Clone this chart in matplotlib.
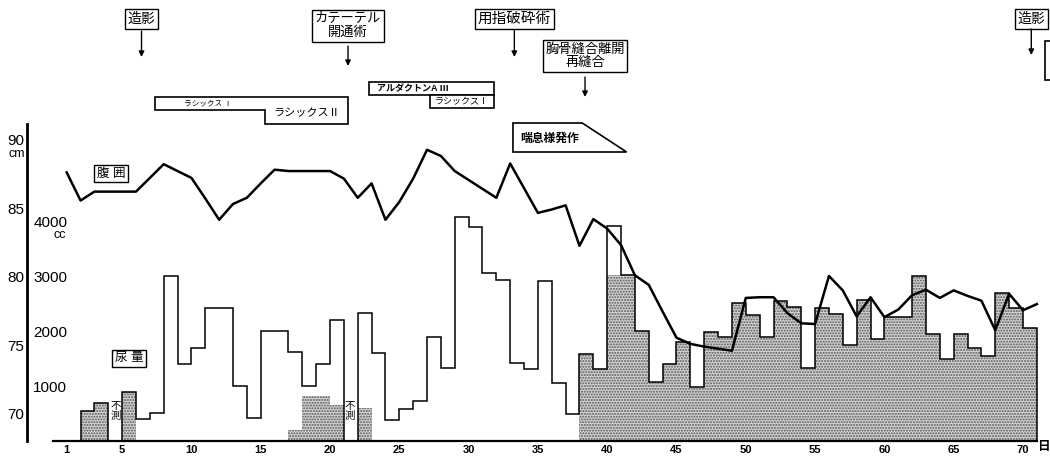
import numpy as np
import matplotlib
matplotlib.use('Agg')
import matplotlib.pyplot as plt
from matplotlib.transforms import blended_transform_factory
from matplotlib.patches import Polygon, Rectangle

plt.rcParams['font.family'] = ['Liberation Sans', 'Noto Sans CJK JP']
plt.rcParams['hatch.linewidth'] = 1.0

# 腹囲 (cm), day 1..71
days = np.arange(1, 72)
waist = [87.6, 85.55, 86.2, 86.2, 86.2, 86.2, 87.2, 88.2, 87.7, 87.2,
         85.7, 84.15, 85.3, 85.75, 86.8, 87.8, 87.7, 87.7, 87.7, 87.7,
         87.15, 85.75, 86.8, 84.15, 85.45, 87.15, 89.25, 88.8, 87.7, 87.05,
         86.4, 85.75, 88.25, 86.45, 84.65, 84.9, 85.2, 82.25, 84.2, 83.5,
         82.3, 80.1, 79.4, 77.45, 75.55, 75.1, 74.9, 74.75, 74.6, 78.45,
         78.5, 78.5, 77.35, 76.6, 76.55, 80.05, 79.0, 77.1, 78.5, 77.05,
         77.6, 78.65, 79.05, 78.45, 79.0, 78.6, 78.25, 76.1, 78.75, 77.55,
         78.0]

# 尿量 (cc), one step per day, day 2..70 (nan = 不測)
urine_days = np.arange(2, 71)
urine = [550, 700, np.nan, 885, 400, 515, 3000, 1400, 1700, 2410,
         2410, 1005, 425, 2000, 2000, 1610, 1000, 1400, 2200, np.nan,
         2320, 1595, 380, 575, 735, 1885, 1320, 4080, 3900, 3060,
         2925, 1410, 1305, 2910, 1050, 490, 1575, 1305, 3915, 3020,
         2005, 1080, 1400, 1805, 990, 1990, 1900, 2515, 2290, 1900,
         2550, 2430, 1320, 2410, 2305, 1745, 2565, 1850, 2250, 2250,
         3000, 1945, 1485, 1945, 1685, 1545, 2685, 2410, 2050]
# shaded part of each day's bar
shaded = [550, 700, 0, 885, 0, 0, 0, 0, 0, 0,
          0, 0, 0, 0, 0, 200, 820, 820, 650, 0,
          600, 0, 0, 0, 0, 0, 0, 0, 0, 0,
          0, 0, 0, 0, 0, 0, 1575, 1305, 3020, 3020,
          2005, 1080, 1400, 1805, 990, 1990, 1900, 2515, 2290, 1900,
          2550, 2430, 1320, 2410, 2305, 1745, 2565, 1850, 2250, 2250,
          3000, 1945, 1485, 1945, 1685, 1545, 2685, 2410, 2050]

xticks = [1, 5, 10, 15, 20, 25, 30, 35, 40, 45, 50, 55, 60, 65, 70]
cm_ticks = [70, 75, 80, 85, 90]
cc_ticks = [1000, 2000, 3000, 4000]

# events at top: text, day, box centre y (px from top), arrow start/end y (px)
events = ["造影", "カテーテル\n開通術", "用指破砕術", "胸骨縫合離開\n再縫合", "造影"]
event_day = [6.4, 21.3, 33.3, 38.4, 70.6]
event_y = [19, 26, 19, 56, 19]
arrow_y = [(31, 57), (46, 66), (30, 57), (77, 97), (29, 55)]
event_size = [10, 9.5, 10.5, 9.5, 10]

W, H = 1050, 461
fig = plt.figure(figsize=(W / 100, H / 100), dpi=100)
ax = fig.add_axes([27 / W, 20 / H, 1 - 27 / W, 317 / H])
ax.set_xlim(-1.864, 71.95)
ax.set_ylim(0, 5764)

def fy(px):
    return 1 - px / H

bt = blended_transform_factory(ax.transData, fig.transFigure)

# shaded part
ax.bar(urine_days, shaded, width=1, align='edge', color='#d4d4d4',
       hatch='......', edgecolor='#555555', linewidth=0, zorder=1)

# outline steps, split at the 不測 days
u = np.array(urine, dtype=float)
start = None
for i in range(len(u) + 1):
    ok = i < len(u) and not np.isnan(u[i])
    if ok and start is None:
        start = i
    if not ok and start is not None:
        edges = np.arange(urine_days[start], urine_days[i - 1] + 2)
        ax.stairs(u[start:i], edges, baseline=0, fill=False,
                  color='black', linewidth=1.1, zorder=2)
        start = None

for s in ['top', 'right']:
    ax.spines[s].set_visible(False)
ax.spines['left'].set_linewidth(2)
ax.spines['bottom'].set_linewidth(1.6)
ax.spines['bottom'].set_bounds(0, 71)

ax.set_xticks(xticks)
ax.set_xticklabels([str(t) for t in xticks], fontsize=8, fontweight='bold')
ax.tick_params(axis='x', length=0, pad=3)
ax.set_yticks(cc_ticks)
ax.set_yticklabels([str(t) for t in cc_ticks], fontsize=11)
ax.tick_params(axis='y', length=0, pad=-4.5)
for lab in ax.get_yticklabels():
    lab.set_horizontalalignment('left')

# waist on cm scale
ax2 = ax.twinx()
ax2.set_ylim(68.02, 91.13)
ax2.plot(days, waist, color='black', linewidth=1.8, zorder=3)
for s in ax2.spines.values():
    s.set_visible(False)
ax2.yaxis.tick_left()
ax2.set_yticks(cm_ticks)
ax2.set_yticklabels([str(t) for t in cm_ticks], fontsize=11)
ax2.tick_params(axis='y', length=0, pad=2)

# unit labels
ax.text(25 / W, fy(154), "cm", transform=fig.transFigure, ha='right',
        va='center', fontsize=9, linespacing=1.0)
ax.text(66 / W, fy(235), "cc", transform=fig.transFigure, ha='right',
        va='center', fontsize=9)
ax.text(71.45, fy(447), "日", transform=bt, ha='center', va='center',
        fontsize=9, fontweight='bold')

box = dict(boxstyle='square,pad=0.2', fc='white', ec='black', lw=1)
ax.text(4.2, fy(173.5), "腹 囲", transform=bt, ha='center', va='center',
        fontsize=9, bbox=box)
ax.text(5.5, fy(358), "尿 量", transform=bt, ha='center', va='center',
        fontsize=9, bbox=box)
for d in [4.55, 21.4]:
    ax.text(d, fy(411), "不\n測", transform=bt, ha='center', va='center',
            fontsize=7.5, linespacing=1.0)

# events with arrows
for txt, d, yc, (y0, y1), fs in zip(events, event_day, event_y, arrow_y, event_size):
    ax.text(d, fy(yc), txt, transform=bt, ha='center', va='center',
            fontsize=fs, linespacing=1.15, bbox=box, clip_on=False)
    ax.annotate("", xy=(d, fy(y1)), xytext=(d, fy(y0)), xycoords=bt,
                textcoords=bt,
                arrowprops=dict(arrowstyle='-|>', color='black', lw=1,
                                mutation_scale=8, shrinkA=0, shrinkB=0),
                annotation_clip=False)
# box cut by the right edge of the page
ax.add_patch(Rectangle((71.6, fy(80)), 2, (80 - 41) / H, transform=bt,
                       fc='white', ec='black', lw=1.2, clip_on=False))

# drug periods
def outline(pts):
    p = Polygon(pts, closed=True, transform=bt, fill=True, fc='white',
                ec='black', lw=1.2, clip_on=False)
    ax.add_patch(p)

outline([(7.37, fy(97)), (21.3, fy(97)), (21.3, fy(124)), (15.3, fy(124)),
         (15.3, fy(110)), (7.37, fy(110))])
ax.text(11.2, fy(104), "ラシックス Ⅰ", transform=bt, ha='center',
        va='center', fontsize=5.5)
ax.text(18.3, fy(113), "ラシックスⅡ", transform=bt, ha='center',
        va='center', fontsize=8)
outline([(22.8, fy(82)), (31.8, fy(82)), (31.8, fy(95)), (22.8, fy(95))])
ax.text(23.4, fy(88.5), "アルダクトンA Ⅲ", transform=bt, ha='left',
        va='center', fontsize=6.5, fontweight='bold')
outline([(27.2, fy(95)), (31.8, fy(95)), (31.8, fy(108)), (27.2, fy(108))])
ax.text(29.5, fy(101.5), "ラシックスⅠ", transform=bt, ha='center',
        va='center', fontsize=6.5)
outline([(33.2, fy(123)), (38.2, fy(123)), (41.4, fy(152)), (33.2, fy(152))])
ax.text(33.7, fy(139), "喘息様発作", transform=bt, ha='left', va='center',
        fontsize=8.5, fontweight='bold')

fig.savefig("out.png", dpi=100)
